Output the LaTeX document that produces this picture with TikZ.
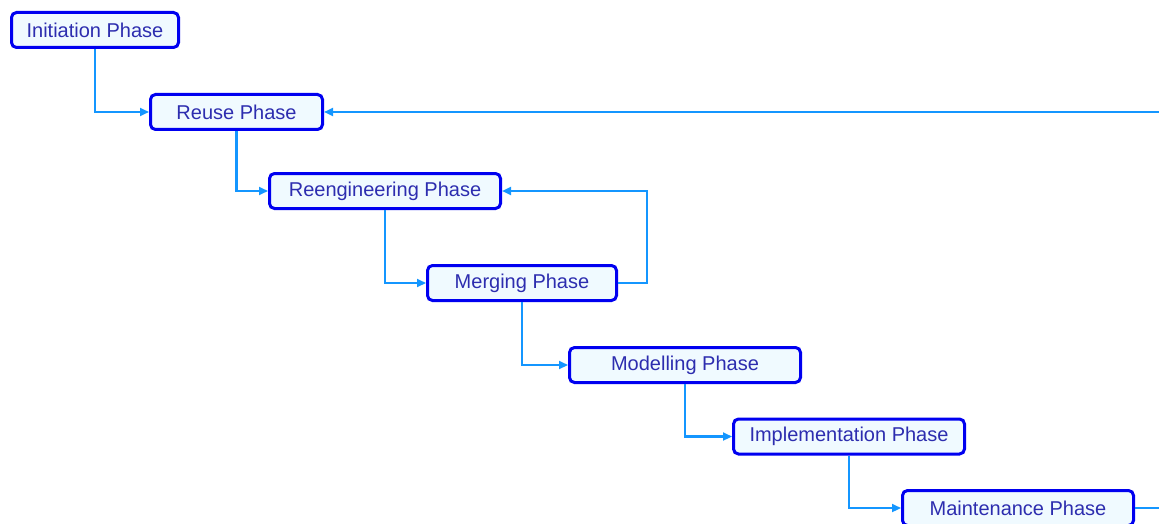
\documentclass[tikz,border=0pt]{standalone}
\usepackage{fontspec}
\setmainfont{Liberation Sans}
\usetikzlibrary{arrows.meta}
\definecolor{boxborder}{RGB}{0,0,240}
\definecolor{boxfill}{RGB}{240,250,255}
\definecolor{boxtext}{RGB}{45,45,175}
\definecolor{flow}{RGB}{20,150,255}
\tikzset{
  phase/.style={draw=boxborder, fill=boxfill, line width=3pt, rounded corners=5pt,
    text=boxtext, font=\fontsize{20}{22}\selectfont, minimum height=35pt,
    inner sep=0pt, anchor=center},
  flowline/.style={draw=flow, line width=2.2pt,
    -{Triangle[length=9pt,width=8pt]}}
}
\begin{document}
\begin{tikzpicture}[x=1pt,y=-1pt]
  \useasboundingbox (0,0) rectangle (1159,524);
  \clip (0,0) rectangle (1159,524);
  % phases
  \node[phase, minimum width=167pt] (init)  at (95,30)    {Initiation Phase};
  \node[phase, minimum width=172pt] (reuse) at (236.5,112) {Reuse Phase};
  \node[phase, minimum width=231pt] (reeng) at (385,191)  {Reengineering Phase};
  \node[phase, minimum width=189pt] (merge) at (522,283)  {Merging Phase};
  \node[phase, minimum width=231pt] (model) at (685,365)  {Modelling Phase};
  \node[phase, minimum width=231pt] (impl)  at (849,436.5) {Implementation Phase};
  \node[phase, minimum width=231pt] (maint) at (1018,508) {Maintenance Phase};
  % forward flow
  \draw[flowline] (init.south)  |- (reuse.west);
  \draw[flowline] (reuse.south) |- (reeng.west);
  \draw[flowline] (reeng.south) |- (merge.west);
  \draw[flowline] (merge.south) |- (model.west);
  \draw[flowline] (model.south) |- (impl.west);
  \draw[flowline] (impl.south)  |- (maint.west);
  % feedback loops
  \draw[flowline] (merge.east) -- ++(29,0) |- (reeng.east);
  \coordinate (loopx) at (1180,508);
  \draw[flowline] (maint.east) -- (loopx) |- (reuse.east);
\end{tikzpicture}
\end{document}
